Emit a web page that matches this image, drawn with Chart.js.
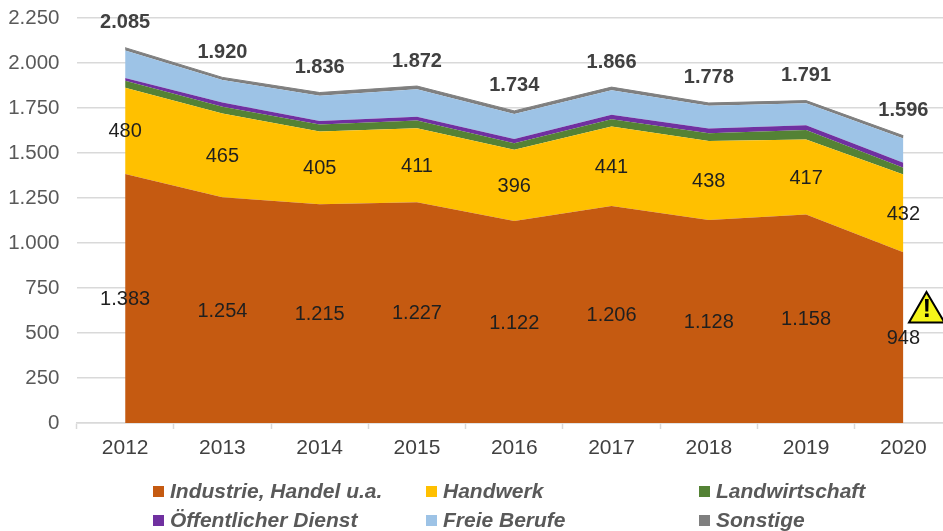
<!DOCTYPE html>
<html lang="de">
<head>
  <meta charset="UTF-8" />
  <title>Ausbildung nach Bereichen</title>
  <script src="https://cdn.jsdelivr.net/npm/chart.js"></script>
  <style>
    html, body {
      margin: 0;
      width: 943px;
      height: 531px;
      overflow: hidden;
      background: #fff;
      font-family: 'Liberation Sans', Arial, sans-serif;
    }
    #wrap { position: relative; width: 943px; height: 531px; overflow: hidden; }
    canvas { position: absolute; left: 0; top: 0; }
    .legend-item {
      position: absolute;
      font-size: 21px;
      font-weight: bold;
      font-style: italic;
      color: #595959;
      line-height: 24px;
      white-space: nowrap;
    }
    .legend-item i {
      position: absolute;
      left: -17px;
      top: 7px;
      width: 11px;
      height: 11px;
    }
  </style>
</head>
<body>
  <div id="wrap">
    <canvas id="chart" width="952" height="531"></canvas>
  </div>

  <script>
    const years = ['2012', '2013', '2014', '2015', '2016', '2017', '2018', '2019', '2020'];
    const yTicks = ['0', '250', '500', '750', '1.000', '1.250', '1.500', '1.750', '2.000', '2.250'];

    const industrie = [1383, 1254, 1215, 1227, 1122, 1206, 1128, 1158, 948];
    const handwerk = [480, 465, 405, 411, 396, 441, 438, 417, 432];
    // not labelled in the picture, read off the band heights
    const landwirtschaft = [38, 38, 38, 42, 36, 40, 44, 53, 38];
    const oeffentlich = [16, 24, 20, 22, 24, 26, 26, 26, 28];
    const freieBerufe = [152, 124, 140, 152, 138, 135, 126, 122, 135];
    const sonstige = [16, 15, 18, 18, 18, 18, 16, 15, 15];
    const totals = [2085, 1920, 1836, 1872, 1734, 1866, 1778, 1791, 1596];

    const names = ['Industrie, Handel u.a.', 'Handwerk', 'Landwirtschaft', 'Öffentlicher Dienst', 'Freie Berufe', 'Sonstige'];
    const colors = ['#C55A11', '#FFC000', '#548235', '#7030A0', '#9DC3E6', '#7F7F7F'];
    const values = [industrie, handwerk, landwirtschaft, oeffentlich, freieBerufe, sonstige];

    const fmt = n => n.toLocaleString('de-DE');

    // band labels for the two big series, bold totals above the stack
    const labelPlugin = {
      id: 'labelPlugin',
      afterDatasetsDraw(chart) {
        const { ctx, scales: { x, y } } = chart;
        ctx.save();
        ctx.textAlign = 'center';
        ctx.textBaseline = 'middle';
        ctx.fillStyle = '#1f1f1f';
        ctx.font = "20px 'Liberation Sans'";
        years.forEach((yr, i) => {
          const px = x.getPixelForValue(i);
          ctx.fillText(fmt(industrie[i]), px, y.getPixelForValue(industrie[i] / 2) + 1);
          ctx.fillText(fmt(handwerk[i]), px, y.getPixelForValue(industrie[i] + handwerk[i] / 2) + 1);
        });
        ctx.fillStyle = '#404040';
        ctx.font = "bold 20px 'Liberation Sans'";
        years.forEach((yr, i) => {
          ctx.fillText(fmt(totals[i]), x.getPixelForValue(i), y.getPixelForValue(totals[i]) - 25);
        });

        // warning sign next to 2020
        ctx.beginPath();
        ctx.moveTo(926.5, 292);
        ctx.lineTo(944.5, 322.5);
        ctx.lineTo(909, 322.5);
        ctx.closePath();
        ctx.fillStyle = '#F5F519';
        ctx.fill();
        ctx.lineWidth = 2;
        ctx.strokeStyle = '#000';
        ctx.stroke();
        ctx.fillStyle = '#000';
        ctx.font = "bold 26px 'Liberation Sans'";
        ctx.fillText('!', 926.8, 310);
        ctx.restore();
      }
    };

    new Chart(document.getElementById('chart'), {
      type: 'line',
      data: {
        labels: years,
        datasets: values.map((data, i) => ({
          label: names[i],
          data,
          backgroundColor: colors[i],
          borderColor: colors[i],
          borderWidth: i === 5 ? 1 : 0,
          pointRadius: 0,
          tension: 0,
          fill: i === 0 ? 'origin' : '-1'
        }))
      },
      options: {
        responsive: false,
        animation: false,
        layout: { padding: { top: 18, right: 0, bottom: 0, left: 0 } },
        plugins: { legend: { display: false }, tooltip: { enabled: false } },
        scales: {
          x: {
            offset: true,
            grid: { offset: true, drawOnChartArea: false, color: '#d9d9d9', tickLength: 6, tickWidth: 1.5 },
            border: { color: '#d9d9d9', width: 1.5 },
            ticks: { color: '#404040', font: { family: 'Liberation Sans', size: 21 }, padding: 7, maxRotation: 0 },
            afterFit: s => { s.height = 108; s.paddingLeft = 0; s.paddingRight = 0; }
          },
          y: {
            stacked: true,
            min: 0,
            max: 2250,
            afterBuildTicks: s => { s.ticks = yTicks.map((t, i) => ({ value: i * 250 })); },
            grid: { color: '#d9d9d9', lineWidth: 1.5, drawTicks: false },
            border: { display: false },
            ticks: {
              color: '#595959',
              font: { family: 'Liberation Sans', size: 20.5 },
              padding: 17,
              callback: (v, i) => yTicks[i]
            },
            afterFit: s => { s.width = 76.5; s.paddingTop = 0; s.paddingBottom = 0; }
          }
        }
      },
      plugins: [labelPlugin]
    });

    // legend sits in three columns under the plot
    const legendX = [170, 443, 716];
    const legendY = [479, 508];
    const wrap = document.getElementById('wrap');
    names.forEach((name, i) => {
      const el = document.createElement('div');
      el.className = 'legend-item';
      el.style.left = legendX[i % 3] + 'px';
      el.style.top = legendY[Math.floor(i / 3)] + 'px';
      el.textContent = name;
      const box = document.createElement('i');
      box.style.background = colors[i];
      el.appendChild(box);
      wrap.appendChild(el);
    });
  </script>
</body>
</html>
